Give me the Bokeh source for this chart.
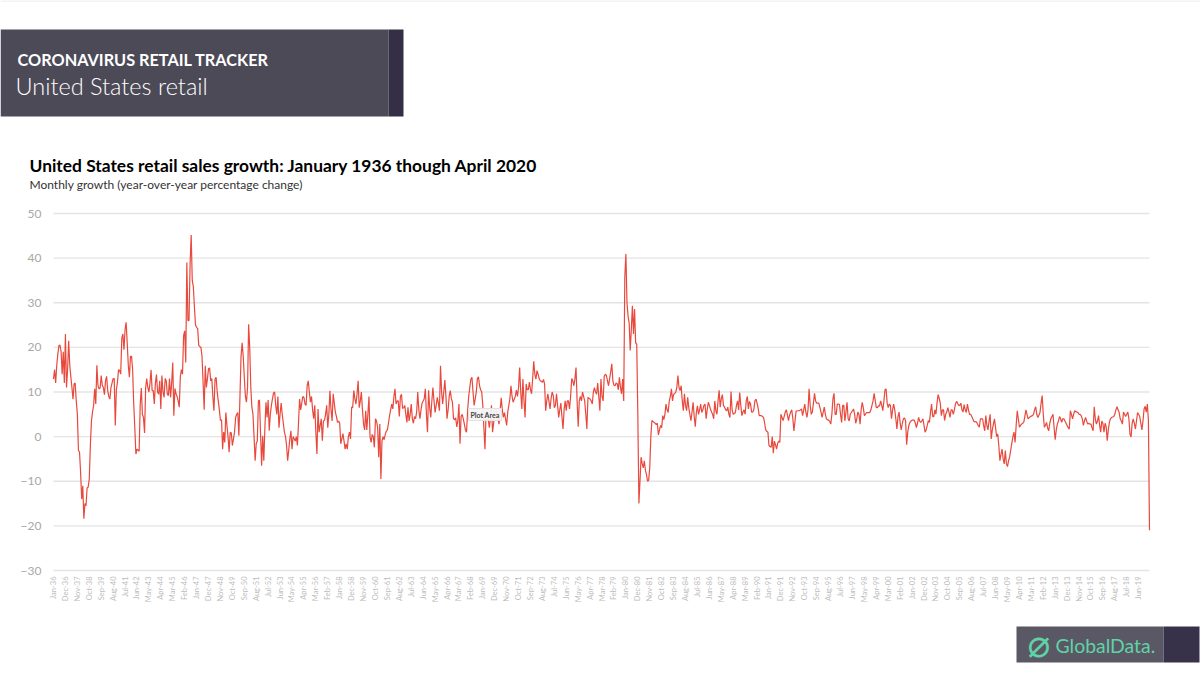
from math import pi

from bokeh.embed import file_html
from bokeh.models import BoxAnnotation, FixedTicker, Label, Range1d
from bokeh.plotting import figure
from bokeh.resources import INLINE

# year-over-year growth, one row per year
growth_1936_45 = [
    12.9, 15, 12, 16, 18.5, 20.4, 20.5, 19, 14, 19, 12, 23,
    11, 15, 21.5, 16, 13.4, 11, 8.4, 11.8, 12, 8, 5, -3,
    -3.5, -8, -14, -11, -18.4, -15, -15.5, -11.5, -11.3, -9.5, -2, 3.5,
    5.5, 7, 10.7, 7.3, 16, 11.5, 10.7, 10.9, 13.7, 11.5, 11, 9.4,
    12.5, 13.5, 10.3, 9, 8.4, 11, 12, 13, 13, 2.5, 10.5, 12.2,
    15, 14.8, 14, 22, 23, 19.5, 24, 25.6, 21, 16, 13.3, 18,
    18, 15, 7.3, 2, -3.9, -2.8, -3, -3.3, 7.3, 10.9, 5, 4.3,
    0.8, 11, 13, 11, 10, 12, 15, 10.3, 10.3, 7.3, 12, 13.9,
    10, 9.5, 12.5, 6.2, 13.7, 10, 8.8, 13, 12.5, 9.5, 9.2, 13,
    8.8, 12, 16.6, 4.7, 10.8, 9.6, 9, 8, 6.6, 13.5, 15, 14,
]
growth_1946_55 = [
    22.6, 23.7, 16.6, 39, 26, 26, 38.7, 45.2, 35, 33.6, 29, 25,
    24.5, 24.2, 20.4, 20.2, 20, 18, 12, 6, 15.9, 11, 13, 15.2,
    15.4, 12.5, 13, 9, 5.8, 12.9, 13.3, 10, 8, 6, 3.6, 3.8,
    -2.8, 1, -1.3, 5.4, 2.5, 0, -3.5, 1, 0.8, -2, -0.5, 1,
    4.3, 5, 5.4, 0.2, 9, 18, 21, 18, 13.3, 9, 7.7, 11,
    25.2, 20, 11, 6.6, 5, 0, -5.4, -1.6, -1, 8, 8.2, 0.6,
    -6.5, 0.2, -5.4, 2, 7.7, 4.3, 8.2, 1.3, 5, 7, 8.5, 9.8,
    10, 7, 5, 9, 2, 5, 7.5, 5, 3, 1, 0, -2,
    -5.4, -3, -0.5, 1.3, -2.8, 0, -0.5, -1, 0, -2, 3, 8.4,
    6, 7.5, 9, 8.8, 7.3, 7, 11.5, 12.5, 10, 7.7, 9, 6,
]
growth_1956_65 = [
    4, 7, 1, -3.9, 6.2, 1, 2.5, 4, -0.9, 3.5, 3.7, 5,
    7, 2, 5, 10.3, 6, 3.5, 9.6, 7.5, 5.5, 4.5, 3.2, 3.5,
    3, -1.6, -0.5, 0.7, -1, -2.8, -1.6, -2.8, 0, 1, -0.5, 6.6,
    6.5, 10.3, 8.5, 7.3, 9.5, 12.5, 6.5, 8, 10, 6, 2.8, 1.5,
    5.8, 1.5, 5, 9, -0.1, -1.3, 0.5, 0, -2.4, 4, 3.5, 2,
    -4.6, 2.8, -9.5, -1, 0, -0.7, 0.5, 1.2, 1.5, 3, 4.7, 6,
    7.3, 6.2, 9, 10.7, 7.3, 8, 8, 4.5, 9, 9.5, 6.3, 6.5,
    7, 5, 3.2, 6.6, 3.5, 5, 7.3, 4, 3, 4.5, 4, 5.5,
    10, 6, 4, 6, 7.5, 8, 8.5, 10.7, 5, 1, 10.4, 6.5,
    4.3, 8, 11, 8, 5.4, 7, 8.8, 7.5, 5.8, 15.9, 10, 7.3,
]
growth_1966_75 = [
    10, 12.7, 9, 4, 6, 9, 10.3, 8.5, 7.7, 4, 3.8, 4.2,
    2.2, 3.6, 7.3, -1.6, 4.5, 5, 4, 2.8, 1.5, 1, 5.8, 9,
    11, 12.9, 13.3, 10, 7, 8.4, 10, 13, 13.4, 11.4, 10.5, 10,
    7, 2, -2.8, 5, 5.5, 4, 2, 4, 7, 1, 3, 5.8,
    6, 5.4, 4, 2.8, 6, 8.7, 6, 4.3, 5.4, 4, 2.5, 5.5,
    7, 8.5, 11.4, 9, 7.7, 8.4, 9, 10.4, 9, 11, 15.5, 10,
    6.2, 12.9, 8, 4.3, 11.8, 10.5, 10.5, 12.2, 10.5, 9.6, 13, 16.9,
    14, 12.9, 14.8, 14, 13, 12.5, 12.4, 12.2, 12.8, 11.8, 5.8, 8,
    9.6, 8, 6.2, 8.5, 10, 9.2, 6.5, 7, 9.6, 7, 4.3, 6,
    7.5, 4.5, 1.7, 6, 8, 5.8, 8, 8, 6.2, 9, 13, 12.5,
]
growth_1976_85 = [
    11.4, 13, 15.5, 8, 2.2, 8, 9, 8, 10, 9, 8, 5,
    1.7, 8.8, 8.6, 8.4, 8, 7.3, 10, 11, 10, 9.5, 12, 9,
    5.8, 12.9, 9, 8, 13.5, 14, 13.7, 12.5, 11.4, 13, 14.5, 16.3,
    12.5, 11.5, 11.4, 12, 11.8, 10.5, 13.3, 11, 9.6, 12.9, 8, 35.7,
    40.9, 30, 27, 25.5, 19.3, 24, 29.3, 23, 28.6, 21, 20.7, 5,
    -15, -10, -4.6, -6, -7, -5.4, -7.5, -8.5, -10, -9.8, -7, 0,
    3.6, 3.4, 3.2, 3, 2.7, 3, 0.4, 1.5, 2.5, 2, 4.7, 3.8,
    5, 7.3, 6, 5.4, 8, 9, 10.7, 8, 9.5, 9.6, 10, 11,
    13.7, 11, 10.3, 11.4, 8, 5.8, 9.6, 7, 5.8, 8.8, 6.5, 5,
    3.6, 5.5, 7.7, 4.5, 2.2, 5.5, 6.9, 5, 6, 7.3, 5.4, 6,
]
growth_1986_95 = [
    7, 7.3, 4, 6, 7.7, 7, 6.2, 5.5, 5, 4, 8, 5.8,
    5, 8, 10.4, 6.6, 8.5, 9.4, 7, 6.6, 6, 5.8, 6.6, 5,
    4.3, 10.1, 6, 5, 5.2, 5.4, 7, 8, 6, 9.9, 7, 4.7,
    5.5, 6, 5, 8, 9, 6.2, 7.9, 7.3, 5.5, 5.5, 6, 8,
    8.4, 7.5, 6.4, 4.7, 4.7, 4.7, 4.5, 4.3, 3, 1.5, 1.2, 1,
    -2, -2.2, -2.4, 0, -3.7, -1, -1.8, -2.8, -1.5, -1, -1.3, 5,
    4.3, 3.6, 4.5, 5.5, 6, 4.8, 3.6, 4.8, 5.5, 6, 4, 1.3,
    3.5, 5.7, 5.8, 5.8, 5.8, 6, 6.2, 4.7, 6, 7.3, 5.5, 4.3,
    6, 10.7, 7, 5, 5.5, 7.5, 9.7, 8, 7.5, 7.5, 7.5, 6.5,
    5.5, 4.3, 5.5, 6.6, 5, 4, 3.8, 3.7, 3.4, 2.8, 5, 8.5,
]
growth_1996_05 = [
    9.7, 5, 5, 7.3, 7.3, 7.2, 5, 3.2, 7, 7, 3.5, 5.5,
    7.7, 4, 3.5, 5, 5.4, 5.8, 6.2, 5, 3, 4, 5.5, 5,
    2.8, 6, 7.7, 6.5, 4.7, 5, 5.4, 5.4, 5.4, 5.4, 6, 7,
    8, 9.7, 8, 6.5, 6.5, 6.9, 6.9, 8, 7, 5.8, 8, 10.5,
    10.7, 7.5, 6.5, 7.3, 7, 4, 6, 7.3, 6, 4, 1.7, 4.5,
    5.5, 3, 1.5, 3, 4, 4.2, 3.5, -1.8, 1, 2.5, 3.2, 3.5,
    3.7, 3.7, 3.7, 3, 2, 3, 4.3, 3.5, 3.2, 3.5, 4, 2.5,
    1, 1.5, 2.5, 3.6, 3.2, 5.5, 7.3, 4.5, 4.5, 6, 5, 7.5,
    9.4, 8.6, 7.5, 4.7, 6, 6, 3.6, 5, 5.5, 6.5, 5.5, 4.3,
    6, 6, 5, 6, 7.3, 7.9, 7.5, 7, 7, 7.5, 6, 5.5,
]
growth_2006_20 = [
    7.2, 6, 5.4, 7.3, 6, 5, 5, 4.5, 4, 3.4, 3.3, 3.4,
    3, 2.5, 2.1, 4, 4, 4, 2.5, 1.3, 4.7, 2.5, 1.5, 3.5,
    5, -0.5, 1.5, 2.8, 4, 2, 0, 0.6, -2, -5.4, -4, -2.8,
    -5, -6.1, -3.1, -6, -6.7, -5.4, -4.5, -3, -1.5, 0, 1, -1.3,
    2.5, 5.8, 4, 2.1, 2.5, 2.8, 3, 3.2, 4.5, 6, 5, 4,
    4.2, 4.5, 4.6, 4.7, 5, 6, 6.7, 5, 4.3, 4.8, 5.4, 7.5,
    9.2, 5, 2.1, 2.5, 3.2, 2, 1.3, 3, 4, 4.5, 5, 2,
    -0.7, 1.5, 2.8, 3.5, 4.5, 4, 3.2, 4, 4, 3.5, 3, 2.5,
    2, 1.7, 5.8, 5, 4, 5, 5.8, 5.6, 5.5, 5.4, 5, 5,
    4.7, 4, 2.5, 3.5, 4.3, 3.5, 2.8, 3, 2.8, 2.8, 2, 1.3,
    6.7, 4, 2.8, 3.5, 4.7, 2.5, 1, 3.5, 3, 1, 3, 2.3,
    -0.9, 1.5, 3.2, 4, 4.3, 4.4, 4.5, 5, 6, 6.7, 6, 5.4,
    4, 3.5, 2.8, 5.5, 5, 4.5, 5, 5.5, 4, 0.5, -0.1, 3,
    4, 3, 1.7, 3.5, 5.4, 5, 4.5, 3, 1.5, 3.5, 6.2, 6.8,
    5.5, 7.3, 3.6, -21,
]

tick_labels = [
    "Jan-36", "Dec-36", "Nov-37", "Oct-38", "Sep-39", "Aug-40", "Jul-41", "Jun-42", "May-43", "Apr-44",
    "Mar-45", "Feb-46", "Jan-47", "Dec-47", "Nov-48", "Oct-49", "Sep-50", "Aug-51", "Jul-52", "Jun-53",
    "May-54", "Apr-55", "Mar-56", "Feb-57", "Jan-58", "Dec-58", "Nov-59", "Oct-60", "Sep-61", "Aug-62",
    "Jul-63", "Jun-64", "May-65", "Apr-66", "Mar-67", "Feb-68", "Jan-69", "Dec-69", "Nov-70", "Oct-71",
    "Sep-72", "Aug-73", "Jul-74", "Jun-75", "May-76", "Apr-77", "Mar-78", "Feb-79", "Jan-80", "Dec-80",
    "Nov-81", "Oct-82", "Sep-83", "Aug-84", "Jul-85", "Jun-86", "May-87", "Apr-88", "Mar-89", "Feb-90",
    "Jan-91", "Dec-91", "Nov-92", "Oct-93", "Sep-94", "Aug-95", "Jul-96", "Jun-97", "May-98", "Apr-99",
    "Mar-00", "Feb-01", "Jan-02", "Dec-02", "Nov-03", "Oct-04", "Sep-05", "Aug-06", "Jul-07", "Jun-08",
    "May-09", "Apr-10", "Mar-11", "Feb-12", "Jan-13", "Dec-13", "Nov-14", "Oct-15", "Sep-16", "Aug-17",
    "Jul-18", "Jun-19",
]
y_ticks = [-30, -20, -10, 0, 10, 20, 30, 40, 50]

growth = (growth_1936_45 + growth_1946_55 + growth_1956_65 + growth_1966_75
          + growth_1976_85 + growth_1986_95 + growth_1996_05 + growth_2006_20)
months = list(range(len(growth)))
tick_months = [i * 11 for i in range(len(tick_labels))]

W, H = 1200, 676
FRAME_L, FRAME_R, FRAME_T, FRAME_B = 53, 1149, 213, 570

# the frame fills the whole canvas, so the header and logo are not clipped
x_per_px = (months[-1] - months[0]) / (FRAME_R - FRAME_L)
y_per_px = (y_ticks[-1] - y_ticks[0]) / (FRAME_B - FRAME_T)
x_range = Range1d(months[0] - FRAME_L * x_per_px, months[-1] + (W - FRAME_R) * x_per_px)
y_range = Range1d(y_ticks[0] - (H - FRAME_B) * y_per_px, y_ticks[-1] + FRAME_T * y_per_px)

p = figure(width=W, height=H, output_backend="svg", toolbar_location=None,
           x_range=x_range, y_range=y_range,
           min_border_left=0, min_border_right=0, min_border_top=0, min_border_bottom=0)
p.outline_line_color = None
p.background_fill_color = "white"
p.grid.visible = False

p.yaxis.fixed_location = months[0]
p.yaxis.ticker = FixedTicker(ticks=y_ticks)
p.yaxis.axis_line_color = None
p.yaxis.major_tick_line_color = None
p.yaxis.minor_tick_line_color = None
p.yaxis.major_tick_out = 0
p.yaxis.major_label_text_color = "#a8a8a8"
p.yaxis.major_label_text_font = "Lato"
p.yaxis.major_label_text_font_size = "12px"
p.yaxis.major_label_standoff = 12

p.xaxis.fixed_location = y_ticks[0]
p.xaxis.ticker = FixedTicker(ticks=tick_months)
p.xaxis.major_label_overrides = dict(zip(tick_months, tick_labels))
p.xaxis.major_label_orientation = pi / 2
p.xaxis.axis_line_color = None
p.xaxis.major_tick_line_color = None
p.xaxis.minor_tick_line_color = None
p.xaxis.major_tick_out = 0
p.xaxis.major_label_text_color = "#bcbcbc"
p.xaxis.major_label_text_font = "Lato"
p.xaxis.major_label_text_font_size = "7.5px"
p.xaxis.major_label_standoff = 6

# gridlines stop at the first and last month, so they are drawn as segments
p.segment(x0=[months[0]] * len(y_ticks), y0=y_ticks, x1=[months[-1]] * len(y_ticks), y1=y_ticks,
          line_color="#e4e4e4", line_width=1.3)
p.line(months, growth, line_color="#e8493d", line_width=1.2)


def box(left, top, right, bottom, color):
    p.add_layout(BoxAnnotation(left=left, right=right, top=H - top, bottom=H - bottom,
                               left_units="screen", right_units="screen",
                               top_units="screen", bottom_units="screen",
                               fill_color=color, fill_alpha=1, line_color=None,
                               level="overlay"))


def text(px, py, s, size, color, font="Lato", style="normal", **kw):
    p.add_layout(Label(x=px, y=H - py, x_units="screen", y_units="screen",
                       text=s, text_font=font, text_font_size=size, text_color=color,
                       text_font_style=style, text_baseline="middle", level="overlay", **kw))


box(0, 0, W, 1, "#e6e6e6")
box(0, 29, 388, 116, "#4d4a58")
box(388, 29, 403, 116, "#352f45")
text(17, 59, "CORONAVIRUS RETAIL TRACKER", "16.3px", "white", style="bold")
text(15, 85, "United States retail", "23.5px", "white", font="Lato Light")

text(29, 165, "United States retail sales growth: January 1936 though April 2020", "17.4px", "black", style="bold")
text(29, 184, "Monthly growth (year-over-year percentage change)", "12px", "#333333")

text(468, 414, "Plot Area", "7px", "#444444", style="bold",
     background_fill_color="#f4f4f4", background_fill_alpha=0.95,
     border_line_color="#e2e2e2", padding=2)

box(1016, 626, 1163, 662, "#5b5866")
box(1163, 626, 1199, 662, "#37324a")
text(1027, 643, "\u2300", "38px", "#5fd3a6", font="DejaVu Sans")
text(1055, 645, "GlobalData.", "19.4px", "#5fd3a6", font="Lato")

open("out.html", "w").write(file_html(p, INLINE))
